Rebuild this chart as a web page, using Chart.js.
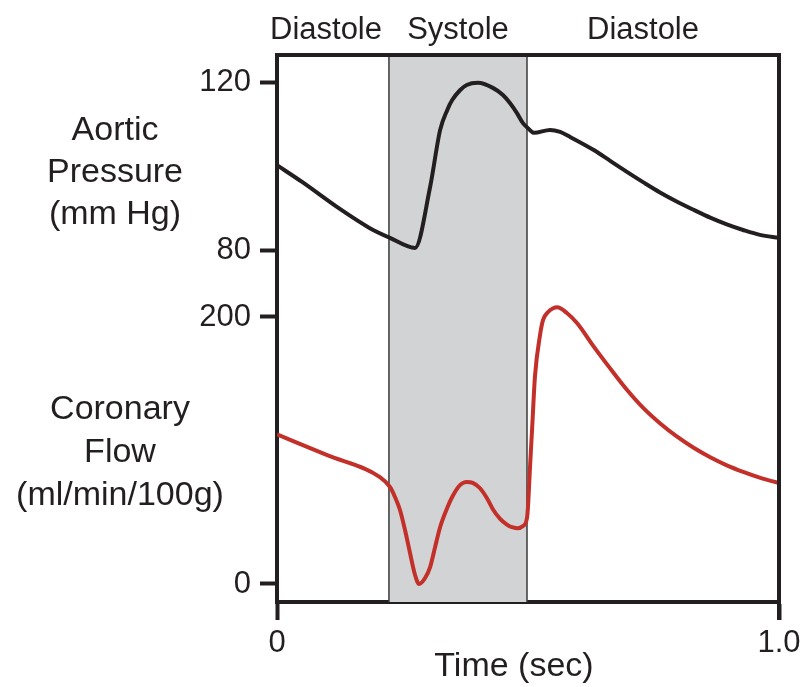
<!DOCTYPE html>
<html>
<head>
<meta charset="utf-8">
<script src="https://cdn.jsdelivr.net/npm/chart.js@4/dist/chart.umd.min.js"></script>
<style>
  body { margin: 0; background: #fff; }
  #wrap { width: 806px; height: 687px; }
</style>
</head>
<body>
<div id="wrap"><canvas id="coronaryChart" width="806" height="687"></canvas></div>
<script>
// Aortic pressure trace (mm Hg) against time (sec)
const pressureTime = [0, 0.05, 0.12, 0.185, 0.225, 0.275, 0.305, 0.325, 0.339, 0.349, 0.365, 0.378, 0.40, 0.43, 0.45, 0.464, 0.478, 0.49, 0.50, 0.512, 0.544, 0.564, 0.584, 0.631, 0.663, 0.697, 0.73, 0.763, 0.797, 0.831, 0.863, 0.896, 0.93, 0.962, 1.0];
const pressureValues = [100.2, 96.2, 90.2, 85.2, 82.9, 80.5, 95, 108.6, 113.3, 115.7, 118.1, 119.3, 119.8, 118.6, 116.9, 115, 112.6, 110.2, 109, 107.9, 108.6, 108.1, 106.9, 103.8, 101.3, 98.6, 96.1, 93.7, 91.5, 89.5, 87.7, 86.1, 84.7, 83.6, 82.9];

// Coronary flow trace (ml/min/100g) against time (sec)
const flowTime = [0, 0.1, 0.205, 0.225, 0.235, 0.245, 0.255, 0.265, 0.275, 0.283, 0.295, 0.305, 0.315, 0.325, 0.339, 0.349, 0.365, 0.378, 0.39, 0.404, 0.418, 0.43, 0.444, 0.458, 0.468, 0.478, 0.49, 0.498, 0.50, 0.504, 0.508, 0.514, 0.524, 0.53, 0.54, 0.55, 0.558, 0.578, 0.598, 0.631, 0.664, 0.697, 0.73, 0.764, 0.797, 0.83, 0.863, 0.896, 0.93, 0.963, 1.0];
const flowValues = [112, 96.5, 80.1, 72.7, 65.2, 55.4, 40.4, 23.2, 6.7, 0, 4.5, 12.7, 27.7, 42.7, 56.9, 65.2, 74.2, 76.4, 75.7, 71.9, 64.4, 56, 49, 44.5, 42.5, 41.8, 43.4, 49.4, 57.7, 87.6, 115, 156, 186.5, 197.8, 203.7, 206.5, 207.3, 202.8, 195.3, 177.8, 161.3, 145.5, 131.7, 120, 110.3, 102, 94.9, 88.9, 83.8, 79.5, 75.6];

// Axis ticks
const pressureTicks = [80, 120];
const flowTicks = [0, 200];
const timeTicks = [0, 1];
const timeTickLabels = ['0', '1.0'];

// Phases of the cardiac cycle
const phaseNames = ['Diastole', 'Systole', 'Diastole'];
const systoleStart = 0.223;
const systoleEnd = 0.498;

const ink = '#231f20';
const red = '#c3302a';
const fontFamily = '"Liberation Sans", Arial, Helvetica, sans-serif';

// Draws the grey systole band, the box frame and the free text labels
const decorPlugin = {
    id: 'decor',
    beforeDatasetsDraw(chart) {
        const ctx = chart.ctx;
        const area = chart.chartArea;
        const x = chart.scales.x;
        const x1 = x.getPixelForValue(systoleStart);
        const x2 = x.getPixelForValue(systoleEnd);
        ctx.save();
        ctx.fillStyle = '#d1d3d4';
        ctx.fillRect(x1, area.top, x2 - x1, area.bottom - area.top);
        ctx.strokeStyle = '#3a3a3a';
        ctx.lineWidth = 1.5;
        ctx.beginPath();
        ctx.moveTo(x1, area.top);
        ctx.lineTo(x1, area.bottom);
        ctx.moveTo(x2, area.top);
        ctx.lineTo(x2, area.bottom);
        ctx.stroke();
        ctx.restore();
    },
    afterDraw(chart) {
        const ctx = chart.ctx;
        const area = chart.chartArea;
        ctx.save();
        // top and right side of the frame
        ctx.strokeStyle = ink;
        ctx.lineWidth = 4;
        ctx.beginPath();
        ctx.moveTo(area.left - 2, area.top);
        ctx.lineTo(area.right, area.top);
        ctx.lineTo(area.right, area.bottom + 18);
        ctx.stroke();

        ctx.fillStyle = ink;
        ctx.textAlign = 'center';
        ctx.textBaseline = 'middle';

        // phase names over the frame
        ctx.font = '31px ' + fontFamily;
        const phaseCenters = [326, 458, 643];
        phaseNames.forEach((name, i) => {
            ctx.fillText(name, phaseCenters[i], 30);
        });

        // left-hand titles
        ctx.font = '34px ' + fontFamily;
        ['Aortic', 'Pressure', '(mm Hg)'].forEach((line, i) => {
            ctx.fillText(line, 115, 131 + i * 42);
        });
        ['Coronary', 'Flow', '(ml/min/100g)'].forEach((line, i) => {
            ctx.fillText(line, 120, 410 + i * 43);
        });

        // x-axis title
        ctx.fillText('Time (sec)', 514, 667);
        ctx.restore();
    }
};

const ctx = document.getElementById('coronaryChart').getContext('2d');
new Chart(ctx, {
    type: 'line',
    data: {
        datasets: [
            {
                label: 'Aortic Pressure',
                data: pressureTime.map((t, i) => ({ x: t, y: pressureValues[i] })),
                yAxisID: 'yP',
                borderColor: ink,
                borderWidth: 4,
                pointRadius: 0,
                cubicInterpolationMode: 'monotone',
                fill: false
            },
            {
                label: 'Coronary Flow',
                data: flowTime.map((t, i) => ({ x: t, y: flowValues[i] })),
                yAxisID: 'yF',
                borderColor: red,
                borderWidth: 4,
                pointRadius: 0,
                cubicInterpolationMode: 'monotone',
                fill: false
            }
        ]
    },
    options: {
        responsive: false,
        animation: false,
        layout: { padding: { top: 55, right: 27, left: 0, bottom: 0 } },
        plugins: {
            legend: { display: false },
            tooltip: { enabled: false }
        },
        scales: {
            x: {
                type: 'linear',
                min: 0,
                max: 1,
                afterBuildTicks: s => { s.ticks = timeTicks.map(v => ({ value: v })); },
                afterFit: s => { s.height = 85; },
                grid: { drawOnChartArea: false, tickLength: 18, tickWidth: 4, tickColor: ink },
                border: { color: ink, width: 4 },
                ticks: {
                    color: ink,
                    font: { family: fontFamily, size: 31 },
                    padding: 5,
                    maxRotation: 0,
                    callback: v => timeTickLabels[timeTicks.indexOf(v)]
                }
            },
            yP: {
                type: 'linear',
                position: 'left',
                stack: 'left',
                stackWeight: 225,
                weight: 1,
                min: 72.86,
                max: 126.43,
                afterBuildTicks: s => { s.ticks = pressureTicks.map(v => ({ value: v })); },
                afterFit: s => { s.width = 277; },
                grid: { drawOnChartArea: false, tickLength: 17, tickWidth: 4, tickColor: ink },
                border: { color: ink, width: 4 },
                ticks: { color: ink, font: { family: fontFamily, size: 31 }, padding: 9 }
            },
            yF: {
                type: 'linear',
                position: 'left',
                stack: 'left',
                stackWeight: 322,
                weight: 0,
                min: -13.5,
                max: 227.7,
                afterBuildTicks: s => { s.ticks = flowTicks.map(v => ({ value: v })); },
                afterFit: s => { s.width = 277; },
                grid: { drawOnChartArea: false, tickLength: 17, tickWidth: 4, tickColor: ink },
                border: { color: ink, width: 4 },
                ticks: { color: ink, font: { family: fontFamily, size: 31 }, padding: 9 }
            }
        }
    },
    plugins: [decorPlugin]
});
</script>
</body>
</html>
